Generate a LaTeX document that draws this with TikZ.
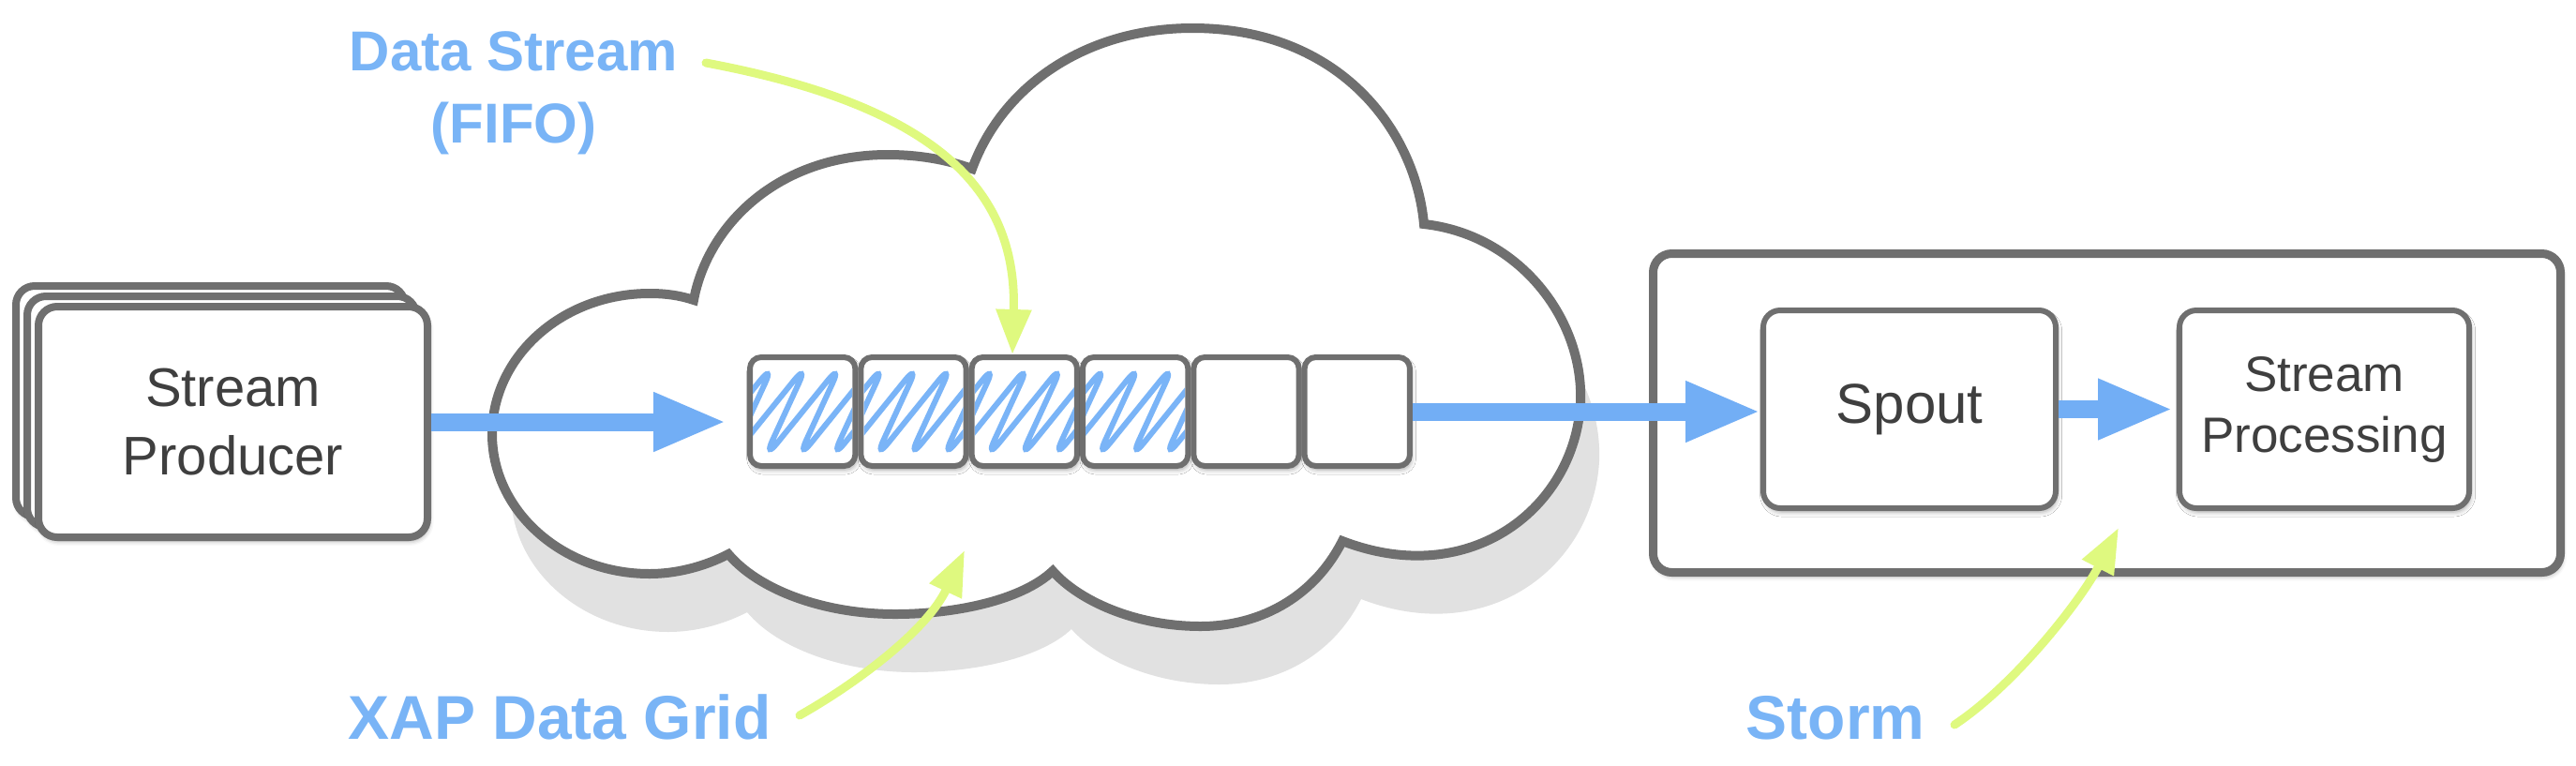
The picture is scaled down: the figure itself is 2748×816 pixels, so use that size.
\documentclass[tikz,border=0pt]{standalone}
\usepackage{fontspec}
\setmainfont{Liberation Sans}
\usetikzlibrary{arrows.meta,calc,shadows.blur}
\definecolor{cgray}{HTML}{6F6F6F}
\definecolor{cblue}{HTML}{72AEF5}
\definecolor{chatch}{HTML}{7AB4F7}
\definecolor{clabel}{HTML}{79B4F6}
\definecolor{cyellow}{HTML}{DFF97F}
\definecolor{cshadow}{HTML}{E1E1E1}
\definecolor{ctext}{HTML}{3F3F3F}
\def\mycloudpath{(740,320) .. controls (755,240) and (830,165) .. (947,165)
 .. controls (985,165) and (1015,172) .. (1037,180)
 .. controls (1070,90) and (1160,30) .. (1272,30)
 .. controls (1430,30) and (1510,140) .. (1519,239)
 .. controls (1620,250) and (1690,340) .. (1686,430)
 .. controls (1680,540) and (1570,630) .. (1432,577)
 .. controls (1400,640) and (1340,668) .. (1281,668)
 .. controls (1210,668) and (1150,640) .. (1123,609)
 .. controls (1090,640) and (1020,655) .. (955,655)
 .. controls (880,655) and (810,630) .. (777,591)
 .. controls (750,605) and (720,612) .. (693,612)
 .. controls (600,612) and (525,545) .. (525,463)
 .. controls (525,380) and (600,313) .. (693,313)
 .. controls (710,313) and (725,315) .. (740,320) -- cycle}
\begin{document}
\begin{tikzpicture}[x=0.5pt,y=-0.5pt,
  softshadow/.style={blur shadow={shadow xshift=0.8pt,shadow yshift=-2pt,shadow blur radius=2.5pt,shadow opacity=35}},
  prodbox/.style={draw=cgray, fill=white, line width=4pt, rounded corners=10pt,
    minimum width=207.5pt, minimum height=123pt, inner sep=0pt, softshadow},
  innerbox/.style={draw=cgray, fill=white, line width=3pt, rounded corners=9pt,
    minimum height=105.5pt, inner sep=0pt, softshadow},
  cell/.style={draw=cgray, fill=white, line width=3pt, rounded corners=6pt,
    minimum width=56.15pt, minimum height=58pt, inner sep=0pt, softshadow},
  container/.style={draw=cgray, fill=white, line width=4.5pt, rounded corners=10pt,
    minimum width=484pt, minimum height=170pt, inner sep=0pt, softshadow},
  boxtext/.style={text=ctext, align=center},
  lbl/.style={text=clabel, align=center, inner sep=0pt},
  bluearrow/.style={draw=cblue, line width=9.5pt, -{Triangle[length=39pt,width=29pt]}},
  hatch/.style={draw=chatch, line width=3pt, rounded corners=12pt, line cap=round},
  note/.style={draw=cyellow, line width=4.5pt, line cap=round, -{Triangle[length=24pt,width=18pt]}}
]
\useasboundingbox (0,0) rectangle (2748,816);

% cloud with shadow
\path[fill=cshadow, shift={(20,62)}] \mycloudpath;
\path[draw=cgray, fill=white, line width=5pt] \mycloudpath;

% stream producer stack
\node[prodbox] (prodb2) at (224.5,428) {};
\node[prodbox] (prodb1) at (236.5,439) {};
\node[prodbox, boxtext, font=\fontsize{29}{36.5}\selectfont] (prod) at (248.5,450) {Stream\\Producer};

% queue cells
\foreach \i in {1,...,6}{
  \pgfmathsetmacro\cx{797+118.33*(\i-0.5)}
  \node[cell] (cell\i) at (\cx,439) {};
}
\foreach \i in {1,...,4}{
  \pgfmathsetmacro\cx{797+118.33*(\i-0.5)}
  \begin{scope}[shift={(\cx,439)}]
    \clip[rounded corners=3pt] (-53,-55) rectangle (53,55);
    \draw[hatch] (-150,52) -- (-66,-52) -- (-114,52) -- (-30,-52) -- (-78,52) -- (6,-52)
      -- (-42,52) -- (42,-52) -- (-6,52) -- (78,-52) -- (30,52) -- (114,-52) -- (66,52);
  \end{scope}
}

% storm container
\node[container] (storm) at (2247.5,440.5) {};
\node[innerbox, boxtext, minimum width=156pt, font=\fontsize{30}{36}\selectfont] (spout) at (2037,436.5) {Spout};
\node[innerbox, boxtext, minimum width=154.5pt, font=\fontsize{26.5}{32.5}\selectfont] (sp) at (2479.5,436.5) {Stream\\Processing};

% blue arrows
\draw[bluearrow, shorten >=11pt] (prod.east) -- (prod.east -| cell1.west);
\draw[bluearrow, -{Triangle[length=40pt,width=30pt]}] (cell6.east) -- (cell6.east -| spout.west);
\draw[bluearrow, -{Triangle[length=40pt,width=30pt]}, shorten >=2pt] (spout.east) -- (sp.west);

% labels
\node[lbl, font=\fontsize{30}{38.5}\selectfont\bfseries, anchor=base] (dslabel) at (548,152) {Data Stream\\(FIFO)};
\node[lbl, font=\fontsize{33}{40}\selectfont\bfseries, anchor=base] (xaplabel) at (597,788) {XAP Data Grid};
\node[lbl, font=\fontsize{33}{40}\selectfont\bfseries, anchor=base] (stormlabel) at (1958,788) {Storm};

% annotation arrows
\coordinate (dsfrom) at (753,67);
\coordinate (dsto) at (1080,378);
\coordinate (xapfrom) at (853,763);
\coordinate (xapto) at (1029,587);
\coordinate (stfrom) at (2085,773);
\coordinate (stto) at (2260,563);
\draw[note] (dsfrom) .. controls (1010,115) and (1085,210) .. (dsto);
\draw[note] (xapfrom) .. controls (920,725) and (990,670) .. (xapto);
\draw[note] (stfrom) .. controls (2150,730) and (2220,640) .. (stto);
\end{tikzpicture}
\end{document}
